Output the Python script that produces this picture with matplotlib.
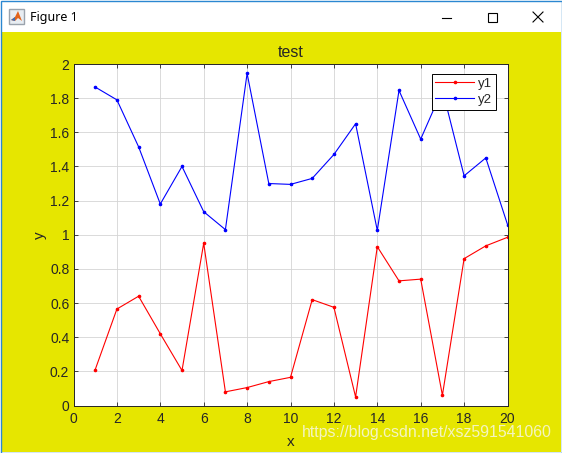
# -*- coding: utf-8 -*-
import matplotlib
matplotlib.use("Agg")
import matplotlib.pyplot as plt
from matplotlib.patches import Rectangle, Polygon

plt.rcParams["font.family"] = ["Liberation Sans", "DejaVu Sans"]

x = list(range(1, 21))
y1 = [0.21, 0.565, 0.64, 0.42, 0.205, 0.95, 0.08, 0.105, 0.14, 0.165,
      0.62, 0.575, 0.05, 0.93, 0.73, 0.74, 0.06, 0.86, 0.935, 0.985]
y2 = [1.865, 1.79, 1.515, 1.18, 1.40, 1.135, 1.03, 1.945, 1.30, 1.295,
      1.33, 1.47, 1.65, 1.025, 1.845, 1.56, 1.85, 1.345, 1.45, 1.06]
xticks = list(range(0, 21, 2))
yticks = [0, 0.2, 0.4, 0.6, 0.8, 1, 1.2, 1.4, 1.6, 1.8, 2]
yticklabels = ["0", "0.2", "0.4", "0.6", "0.8", "1", "1.2", "1.4", "1.6", "1.8", "2"]

W, H = 562, 453
YELLOW = "#e6e600"
DARK = "#262626"

fig = plt.figure(figsize=(W / 100, H / 100), dpi=100, facecolor="white")

# window frame, in pixel coordinates
bg = fig.add_axes([0, 0, 1, 1])
bg.set_xlim(0, W)
bg.set_ylim(H, 0)
bg.axis("off")
bg.add_patch(Rectangle((0, 0), W, H, fc="white", ec="none"))
bg.add_patch(Rectangle((1, 32), W - 2, H - 33, fc=YELLOW, ec="none"))
bg.add_patch(Rectangle((0.5, 0.5), W - 1, H - 1, fc="none", ec="#2b87d1", lw=1))

# figure icon
bg.add_patch(Rectangle((9, 9), 15, 15, fc="#e8edf2", ec="#9aa3ad", lw=1))
bg.add_patch(Polygon([(11, 20), (15, 17), (18, 11), (22, 21), (18, 18), (15, 21)],
                     fc="#e2641c", ec="none"))
bg.add_patch(Polygon([(11, 20), (15, 17), (15, 21)], fc="#3f6fb5", ec="none"))
bg.text(30, 17.5, "Figure 1", fontsize=9, family=["Noto Sans", "DejaVu Sans"],
        color="black", va="center", ha="left")

# window buttons
bg.plot([442, 451], [18, 18], color="black", lw=0.8)
bg.add_patch(Rectangle((487.5, 12.5), 9, 9, fc="none", ec="black", lw=0.8))
bg.plot([533, 543], [12, 22], color="black", lw=0.8)
bg.plot([533, 543], [22, 12], color="black", lw=0.8)

# watermark
bg.text(302, 433, "https://blog.csdn.net/xsz591541060", fontsize=11.4,
        color="#f4f4c0", va="center", ha="left", zorder=10)

left, right, top, bottom = 73.5, 507.5, 64, 405.5
ax = fig.add_axes([left / W, 1 - bottom / H, (right - left) / W, (bottom - top) / H])
ax.set_facecolor("white")

ax.plot(x, y1, color="#ff0000", lw=0.8, marker="o", ms=1.6, label="y1")
ax.plot(x, y2, color="#0000ff", lw=0.8, marker="o", ms=1.6, label="y2")

ax.set_xlim(0, 20)
ax.set_ylim(0, 2)
ax.set_xticks(xticks)
ax.set_yticks(yticks)
ax.set_yticklabels(yticklabels)
ax.grid(True, color="#d4d4d4", lw=0.6)
ax.set_axisbelow(True)
ax.tick_params(direction="in", length=3, width=0.6, top=True, right=True,
               labelsize=10, colors=DARK, pad=3)
ax.tick_params(axis="x", pad=5)
for s in ax.spines.values():
    s.set_linewidth(0.7)
    s.set_color(DARK)

ax.set_title("test", fontsize=11.5, color=DARK, pad=5)
ax.set_xlabel("x", fontsize=11, color=DARK, labelpad=6)
ax.set_ylabel("y", fontsize=11, color=DARK, labelpad=2)

leg = ax.legend(loc="upper right", bbox_to_anchor=(0.973, 0.972), fontsize=9.5,
                fancybox=False, framealpha=1, edgecolor="black", borderaxespad=0,
                borderpad=0.3, labelspacing=0.3, handlelength=2.9, handletextpad=0.3,
                labelcolor=DARK)
leg.get_frame().set_linewidth(0.7)

plt.savefig("out.png", dpi=100)
plt.close()
